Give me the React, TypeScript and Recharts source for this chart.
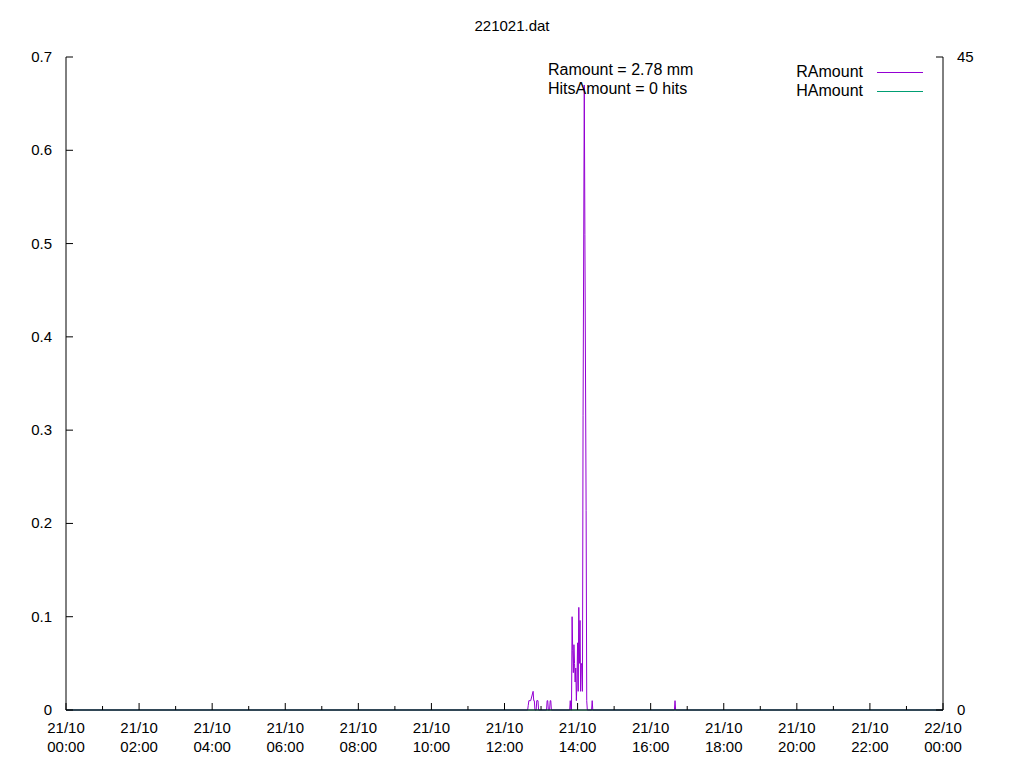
import { LineChart, Line, XAxis, YAxis, Legend } from "recharts";

// rain samples (time of day, mm); only the rainy part of the day is listed
const rainTimes = [
  "00:00", "12:38", "12:39", "12:40", "12:43", "12:45", "12:47", "12:48", "12:49", "12:50",
  "12:52", "12:53", "12:55", "12:56", "13:09", "13:10", "13:11", "13:12", "13:14", "13:15",
  "13:16", "13:17", "13:47", "13:48", "13:49", "13:50", "13:51", "13:52", "13:53", "13:54",
  "13:55", "13:56", "13:57", "13:58", "13:59", "14:00", "14:01", "14:02", "14:03", "14:04",
  "14:05", "14:06", "14:07", "14:08", "14:09", "14:11", "14:12", "14:14", "14:15", "14:16",
  "14:23", "14:24", "14:25", "16:39", "16:40", "16:41", "24:00",
];
const rainValues = [
  0, 0, 0.005, 0.01, 0.01, 0.015, 0.02, 0.01, 0.01, 0,
  0, 0.01, 0.01, 0, 0, 0.01, 0.01, 0, 0, 0.01,
  0.01, 0, 0, 0.01, 0, 0, 0.1, 0.064, 0.04, 0.07,
  0.05, 0.03, 0.045, 0.01, 0.03, 0.072, 0.02, 0.11, 0.05, 0.096,
  0.02, 0.05, 0.048, 0.02, 0.316, 0.67, 0.51, 0.214, 0.01, 0,
  0, 0.01, 0, 0, 0.01, 0, 0,
];

// hits: none during the day
const hitTimes = ["00:00", "24:00"];
const hitValues = [0, 0];

const hourTicks = [
  0, 60, 120, 180, 240, 300, 360, 420, 480, 540, 600, 660, 720,
  780, 840, 900, 960, 1020, 1080, 1140, 1200, 1260, 1320, 1380, 1440,
];
const rainTicks = [0, 0.1, 0.2, 0.3, 0.4, 0.5, 0.6, 0.7];
const hitTicks = [0, 45];

const FONT = "'Liberation Sans', Arial, sans-serif";
const PURPLE = "#9400d3";
const GREEN = "#009e73";
const KEY_H = 40;

const toMin = (t: string) => {
  const [h, m] = t.split(":").map(Number);
  return h * 60 + m;
};

const rainData = rainTimes.map((t, i) => ({ t: toMin(t), v: rainValues[i] }));
const hitData = hitTimes.map((t, i) => ({ t: toMin(t), v: hitValues[i] }));

const pad = (n: number) => (n < 10 ? "0" + n : "" + n);

function BottomTick(props: any) {
  const { x, y, payload } = props;
  const h = payload.value / 60;
  const major = h % 2 === 0;
  return (
    <g>
      <line x1={x} y1={y} x2={x} y2={y - (major ? 7 : 4)} stroke="#000" />
      {major && (
        <text x={x} y={y + 23} textAnchor="middle" fontSize={15} fontFamily={FONT} fill="#000">
          <tspan x={x}>{h === 24 ? "22/10" : "21/10"}</tspan>
          <tspan x={x} dy={19}>{pad(h % 24) + ":00"}</tspan>
        </text>
      )}
    </g>
  );
}

function TopTick(props: any) {
  const { x, y, payload } = props;
  const major = (payload.value / 60) % 2 === 0;
  return <line x1={x} y1={y} x2={x} y2={y + (major ? 7 : 4)} stroke="#000" />;
}

function LeftTick(props: any) {
  const { x, y, payload } = props;
  return (
    <g>
      <line x1={x} y1={y} x2={x + 7} y2={y} stroke="#000" />
      <text x={x - 14} y={y + 5} textAnchor="end" fontSize={15} fontFamily={FONT} fill="#000">
        {payload.value === 0 ? "0" : payload.value.toFixed(1)}
      </text>
    </g>
  );
}

function RightTick(props: any) {
  const { x, y, payload } = props;
  return (
    <g>
      <line x1={x} y1={y} x2={x - 7} y2={y} stroke="#000" />
      <text x={x + 14} y={y + 5} textAnchor="start" fontSize={15} fontFamily={FONT} fill="#000">
        {payload.value}
      </text>
    </g>
  );
}

function KeyBox() {
  const rows = [
    { name: "RAmount", color: PURPLE },
    { name: "HAmount", color: GREEN },
  ];
  return (
    <div style={{ position: "relative", width: 150, height: KEY_H, fontFamily: FONT, fontSize: 16 }}>
      {rows.map((r, i) => (
        <div key={r.name} style={{ position: "absolute", left: 0, top: i * 19, width: 150, height: 19 }}>
          <span style={{ position: "absolute", right: 84, top: 0, lineHeight: "19px", color: "#000" }}>{r.name}</span>
          <span
            style={{ position: "absolute", left: 80, top: 10, width: 46, height: 1, background: r.color }}
          />
        </div>
      ))}
    </div>
  );
}

export default function App() {
  return (
    <div style={{ position: "absolute", left: 0, top: 0, width: 1024, height: 768, background: "#fff" }}>
      <div
        style={{
          position: "absolute",
          left: 0,
          width: 1024,
          top: 17,
          textAlign: "center",
          fontFamily: FONT,
          fontSize: 15,
          lineHeight: "18px",
        }}
      >
        221021.dat
      </div>
      <LineChart
        width={1024}
        height={768}
        data={rainData}
        margin={{ top: 57 - KEY_H, right: 41, bottom: 18, left: 16 }}
      >
        <XAxis
          dataKey="t"
          type="number"
          domain={[0, 1440]}
          ticks={hourTicks}
          interval={0}
          tickSize={0}
          tickMargin={0}
          tickLine={false}
          tick={<BottomTick />}
          axisLine={{ stroke: "#000" }}
          height={40}
          allowDataOverflow
        />
        <XAxis
          xAxisId="top"
          orientation="top"
          dataKey="t"
          type="number"
          domain={[0, 1440]}
          ticks={hourTicks}
          interval={0}
          tickSize={0}
          tickMargin={0}
          tickLine={false}
          tick={<TopTick />}
          axisLine={{ stroke: "#000" }}
          height={0}
        />
        <YAxis
          yAxisId="rain"
          domain={[0, 0.7]}
          ticks={rainTicks}
          interval={0}
          tickSize={0}
          tickMargin={0}
          tickLine={false}
          tick={<LeftTick />}
          axisLine={{ stroke: "#000" }}
          width={50}
        />
        <YAxis
          yAxisId="hits"
          orientation="right"
          domain={[0, 45]}
          ticks={hitTicks}
          interval={0}
          tickSize={0}
          tickMargin={0}
          tickLine={false}
          tick={<RightTick />}
          axisLine={{ stroke: "#000" }}
          width={40}
        />
        <Legend
          verticalAlign="top"
          align="right"
          height={KEY_H}
          content={() => <KeyBox />}
          wrapperStyle={{ position: "absolute", left: 797, top: 62, width: 150 }}
        />
        <Line
          yAxisId="rain"
          data={rainData}
          dataKey="v"
          name="RAmount"
          type="linear"
          stroke={PURPLE}
          strokeWidth={1}
          dot={false}
          isAnimationActive={false}
        />
        <Line
          yAxisId="hits"
          data={hitData}
          dataKey="v"
          name="HAmount"
          type="linear"
          stroke={GREEN}
          strokeWidth={1}
          dot={false}
          isAnimationActive={false}
        />
      </LineChart>
      <div
        style={{
          position: "absolute",
          left: 548,
          top: 60,
          fontFamily: FONT,
          fontSize: 16,
          lineHeight: "19px",
          whiteSpace: "pre",
          pointerEvents: "none",
        }}
      >
        {"Ramount = 2.78 mm\nHitsAmount = 0 hits"}
      </div>
    </div>
  );
}
